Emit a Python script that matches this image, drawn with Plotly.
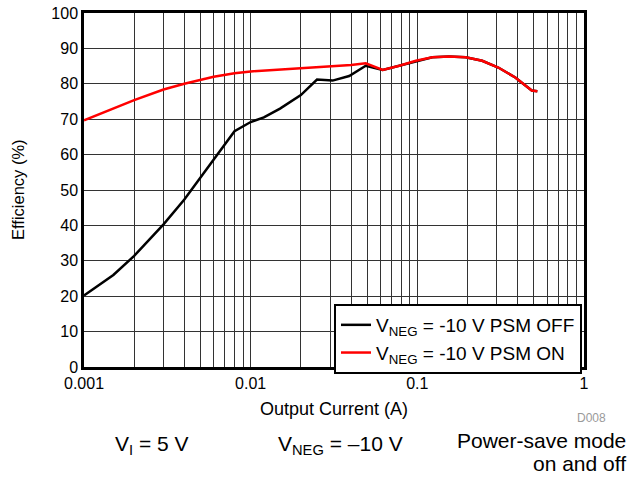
import plotly.graph_objects as go

# ==================== 数据 ====================

# PSM OFF (black)
off_current = [0.001, 0.0015, 0.002, 0.003, 0.004, 0.005, 0.006, 0.007, 0.008,
               0.01, 0.012, 0.015, 0.02, 0.025, 0.031, 0.039, 0.049, 0.062,
               0.078, 0.098, 0.123, 0.155, 0.195, 0.245, 0.306, 0.387, 0.486, 0.525]
off_eff = [20.2, 26.0, 31.4, 40.3, 47.3, 53.5, 58.8, 63.0, 66.6,
           69.2, 70.5, 73.0, 76.8, 81.2, 80.9, 82.2, 85.1, 83.9,
           85.1, 86.5, 87.5, 87.7, 87.5, 86.5, 84.6, 81.8, 78.1, 77.9]

# PSM ON (red)
on_current = [0.001, 0.0015, 0.002, 0.003, 0.004, 0.006, 0.008, 0.01, 0.015,
              0.02, 0.03, 0.04, 0.049, 0.062, 0.078, 0.098, 0.123, 0.155,
              0.195, 0.245, 0.306, 0.387, 0.486, 0.525]
on_eff = [69.7, 73.0, 75.4, 78.4, 80.0, 82.0, 83.0, 83.5, 84.0,
          84.4, 84.8, 85.3, 85.8, 83.9, 85.1, 86.5, 87.5, 87.7,
          87.5, 86.5, 84.6, 81.8, 78.1, 77.9]

x_ticks = [0.001, 0.01, 0.1, 1]
x_tick_text = ["0.001", "0.01", "0.1", "1"]
y_ticks = list(range(0, 101, 10))

FONT = "Liberation Sans, Arial, sans-serif"
GRID = "#333333"

minor_vals = [m * d for d in (0.001, 0.01, 0.1) for m in range(2, 10)]

fig = go.Figure()

fig.add_trace(go.Scatter(
    x=off_current, y=off_eff, mode="lines",
    name="V<sub>NEG</sub> = -10 V PSM OFF",
    line=dict(color="#000000", width=2.5),
))
fig.add_trace(go.Scatter(
    x=on_current, y=on_eff, mode="lines",
    name="V<sub>NEG</sub> = -10 V PSM ON",
    line=dict(color="#FF0000", width=2.5),
))

fig.update_layout(
    width=628, height=477,
    margin=dict(l=84, r=44, t=13, b=110),
    plot_bgcolor="#FFFFFF",
    paper_bgcolor="#FFFFFF",
    font=dict(family=FONT, size=16, color="#000000"),
    showlegend=True,
    legend=dict(
        x=0.996, y=0.178, xanchor="right", yanchor="top",
        bgcolor="#FFFFFF", bordercolor="#000000", borderwidth=2,
        font=dict(size=19), tracegroupgap=0, itemwidth=30,
    ),
)

fig.update_xaxes(
    type="log", range=[-3, 0],
    tickvals=x_ticks, ticktext=x_tick_text,
    showgrid=True, gridcolor=GRID, gridwidth=1,
    minor=dict(tickvals=minor_vals, showgrid=True, gridcolor=GRID, gridwidth=1),
    showline=True, linecolor="#000000", linewidth=2.5, mirror=True,
    ticks="", zeroline=False, automargin=False, ticklabeloverflow="allow",
    tickfont=dict(size=16),
)
fig.update_yaxes(
    range=[0, 100], tickvals=y_ticks,
    showgrid=True, gridcolor=GRID, gridwidth=1,
    showline=True, linecolor="#000000", linewidth=2.5, mirror=True,
    ticks="", zeroline=False, automargin=False, ticklabeloverflow="allow",
    tickfont=dict(size=16),
)

# 轴标题
fig.add_annotation(text="Output Current (A)", xref="paper", yref="paper",
                   x=0.5, y=-0.118, showarrow=False, font=dict(size=18),
                   xanchor="center", yanchor="middle")
fig.add_annotation(text="Efficiency (%)", xref="paper", yref="paper",
                   x=-0.132, y=0.5, showarrow=False, font=dict(size=16.5),
                   textangle=-90, xanchor="center", yanchor="middle")

# 底部说明文字
fig.add_annotation(text="D008", xref="paper", yref="paper", x=1.048, y=-0.144,
                   showarrow=False, font=dict(size=12, color="#9a9a9a"),
                   xanchor="right", yanchor="middle")
fig.add_annotation(text="V<sub>I</sub> = 5 V", xref="paper", yref="paper",
                   x=0.136, y=-0.219, showarrow=False, font=dict(size=21),
                   xanchor="center", yanchor="middle")
fig.add_annotation(text="V<sub>NEG</sub> = \u201310 V", xref="paper", yref="paper",
                   x=0.512, y=-0.219, showarrow=False, font=dict(size=21),
                   xanchor="center", yanchor="middle")
fig.add_annotation(text="Power-save mode", xref="paper", yref="paper",
                   x=1.087, y=-0.209, showarrow=False, font=dict(size=21),
                   xanchor="right", yanchor="middle")
fig.add_annotation(text="on and off", xref="paper", yref="paper",
                   x=1.087, y=-0.274, showarrow=False, font=dict(size=21),
                   xanchor="right", yanchor="middle")

# 去掉页面 body 默认的 8px 外边距，隐藏工具栏
fig.write_html("out.html", config={"displayModeBar": False},
               post_script="document.body.style.margin='0';")
